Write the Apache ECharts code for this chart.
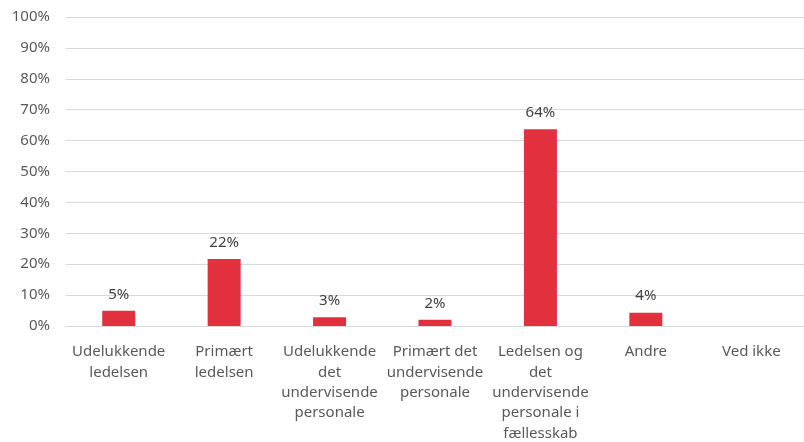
<!DOCTYPE html>
<html><head><meta charset="utf-8">
<script src="https://cdn.jsdelivr.net/npm/echarts@6/dist/echarts.min.js"></script>
<style>html,body{margin:0;padding:0;background:#fff}#c{width:804px;height:442px}</style>
</head><body><div id="c"></div>
<script>
const categories = ["Udelukkende\nledelsen", "Primært\nledelsen", "Udelukkende\ndet\nundervisende\npersonale", "Primært det\nundervisende\npersonale", "Ledelsen og\ndet\nundervisende\npersonale i\nfællesskab", "Andre", "Ved ikke"];
const values = [4.9, 21.7, 2.8, 2.0, 63.7, 4.3, null];
const valueLabels = ["5%", "22%", "3%", "2%", "64%", "4%", ""];
const yTicks = [0, 10, 20, 30, 40, 50, 60, 70, 80, 90, 100];

const font = "Noto Sans";
const chart = echarts.init(document.getElementById('c'));
chart.setOption({
  animation: false,
  grid: {left: 66, right: 0, top: 17, bottom: 116, containLabel: false, outerBoundsMode: 'none'},
  xAxis: {
    type: 'category', data: categories,
    axisLine: {show: true, lineStyle: {color: '#D9D9D9', width: 1}},
    axisTick: {show: false},
    axisLabel: {color: '#595959', fontFamily: font, fontSize: 15, lineHeight: 20.3, margin: 16, interval: 0}
  },
  yAxis: {
    type: 'value', min: yTicks[0], max: yTicks[yTicks.length - 1], interval: 10,
    axisLine: {show: false}, axisTick: {show: false},
    splitLine: {lineStyle: {color: '#D9D9D9', width: 1}},
    axisLabel: {color: '#595959', fontFamily: font, fontSize: 15, margin: 16, formatter: v => v + '%'}
  },
  series: [{
    type: 'bar', data: values, barWidth: 33,
    itemStyle: {color: '#E3303F'},
    label: {show: true, position: 'top', distance: 9, color: '#404040', fontFamily: font, fontSize: 15,
      formatter: p => valueLabels[p.dataIndex]}
  }]
});
</script></body></html>
